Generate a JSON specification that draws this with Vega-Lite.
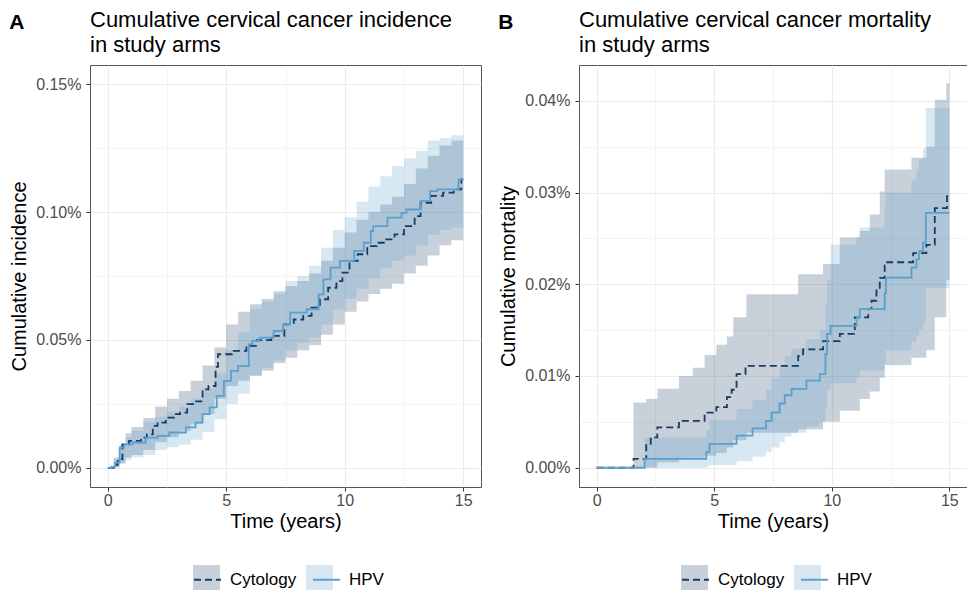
{
"$schema":"https://vega.github.io/schema/vega-lite/v6.json",
"padding":{"left":9,"top":8,"right":0,"bottom":0},
"background":"white",
"spacing":16,
"config":{
 "font":"Liberation Sans",
 "view":{"stroke":"#555555","strokeWidth":1},
 "axis":{"domain":false,"grid":true,"gridColor":"#ebebeb","tickColor":"#333333","labelColor":"#4d4d4d","labelFontSize":16,"titleFontSize":20,"titleFontWeight":"normal","titleColor":"#000000","labelPadding":5,"titlePadding":6,"labelFlush":false,"labelOverlap":false,"labelBound":false},
 "axisX":{"labelPadding":1,"titlePadding":3},
 "legend":{"labelFontSize":17,"labelColor":"#000000","padding":0},
 "title":{"color":"#000000","fontWeight":"normal"}
},
"resolve":{"scale":{"fill":"independent","stroke":"independent","strokeDash":"independent"},"legend":{"fill":"independent","stroke":"independent","strokeDash":"independent"}},
"datasets":{
"lineA":[
{"group":"Cytology","t":0,"est":0},{"group":"Cytology","t":0.25,"est":0.0012},{"group":"Cytology","t":0.42,"est":0.0034},{"group":"Cytology","t":0.62,"est":0.0092},{"group":"Cytology","t":0.9,"est":0.0105},{"group":"Cytology","t":1.4,"est":0.0118},{"group":"Cytology","t":1.65,"est":0.0131},{"group":"Cytology","t":1.9,"est":0.0164},{"group":"Cytology","t":2.1,"est":0.0177},{"group":"Cytology","t":2.45,"est":0.0196},{"group":"Cytology","t":2.8,"est":0.021},{"group":"Cytology","t":3.05,"est":0.0216},{"group":"Cytology","t":3.35,"est":0.0249},{"group":"Cytology","t":3.65,"est":0.026},{"group":"Cytology","t":4.0,"est":0.0307},{"group":"Cytology","t":4.25,"est":0.032},{"group":"Cytology","t":4.55,"est":0.0395},{"group":"Cytology","t":4.65,"est":0.0444},{"group":"Cytology","t":5.25,"est":0.0457},{"group":"Cytology","t":5.85,"est":0.0477},{"group":"Cytology","t":6.3,"est":0.0499},{"group":"Cytology","t":6.9,"est":0.0516},{"group":"Cytology","t":7.45,"est":0.0561},{"group":"Cytology","t":7.85,"est":0.058},{"group":"Cytology","t":8.25,"est":0.0594},{"group":"Cytology","t":8.6,"est":0.0626},{"group":"Cytology","t":8.95,"est":0.0659},{"group":"Cytology","t":9.3,"est":0.0704},{"group":"Cytology","t":9.65,"est":0.073},{"group":"Cytology","t":9.9,"est":0.0763},{"group":"Cytology","t":10.2,"est":0.0809},{"group":"Cytology","t":10.55,"est":0.0835},{"group":"Cytology","t":10.95,"est":0.0867},{"group":"Cytology","t":11.35,"est":0.088},{"group":"Cytology","t":11.7,"est":0.0893},{"group":"Cytology","t":12.1,"est":0.0913},{"group":"Cytology","t":12.5,"est":0.0945},{"group":"Cytology","t":12.95,"est":0.0984},{"group":"Cytology","t":13.2,"est":0.1036},{"group":"Cytology","t":13.65,"est":0.1063},{"group":"Cytology","t":14.15,"est":0.1076},{"group":"Cytology","t":14.6,"est":0.1089},{"group":"Cytology","t":14.92,"est":0.1128},{"group":"Cytology","t":15.0,"est":0.1128},
{"group":"HPV","t":0,"est":0},{"group":"HPV","t":0.15,"est":0.0004},{"group":"HPV","t":0.3,"est":0.002},{"group":"HPV","t":0.5,"est":0.0079},{"group":"HPV","t":0.7,"est":0.0092},{"group":"HPV","t":1.05,"est":0.0099},{"group":"HPV","t":1.6,"est":0.0118},{"group":"HPV","t":2.1,"est":0.0125},{"group":"HPV","t":2.6,"est":0.0138},{"group":"HPV","t":3.3,"est":0.0158},{"group":"HPV","t":3.7,"est":0.0177},{"group":"HPV","t":4.0,"est":0.021},{"group":"HPV","t":4.3,"est":0.0236},{"group":"HPV","t":4.6,"est":0.0281},{"group":"HPV","t":4.9,"est":0.034},{"group":"HPV","t":5.2,"est":0.0379},{"group":"HPV","t":5.5,"est":0.0398},{"group":"HPV","t":5.95,"est":0.0483},{"group":"HPV","t":6.1,"est":0.0496},{"group":"HPV","t":6.4,"est":0.0509},{"group":"HPV","t":7.0,"est":0.0535},{"group":"HPV","t":7.4,"est":0.0561},{"group":"HPV","t":7.7,"est":0.0607},{"group":"HPV","t":8.4,"est":0.062},{"group":"HPV","t":8.9,"est":0.0678},{"group":"HPV","t":9.1,"est":0.0737},{"group":"HPV","t":9.4,"est":0.0783},{"group":"HPV","t":9.8,"est":0.0809},{"group":"HPV","t":10.4,"est":0.0848},{"group":"HPV","t":10.8,"est":0.088},{"group":"HPV","t":11.1,"est":0.0926},{"group":"HPV","t":11.2,"est":0.0945},{"group":"HPV","t":11.8,"est":0.0978},{"group":"HPV","t":12.4,"est":0.0997},{"group":"HPV","t":12.6,"est":0.101},{"group":"HPV","t":13.2,"est":0.1043},{"group":"HPV","t":13.6,"est":0.1082},{"group":"HPV","t":13.9,"est":0.1089},{"group":"HPV","t":14.8,"est":0.1128},{"group":"HPV","t":15.0,"est":0.1128}
],
"bandA":[
{"arm":"Cytology","t":0,"lo":0,"hi":0},{"arm":"Cytology","t":0.25,"lo":0.0002,"hi":0.004},{"arm":"Cytology","t":0.5,"lo":0.002,"hi":0.009},{"arm":"Cytology","t":0.75,"lo":0.004,"hi":0.0135},{"arm":"Cytology","t":1.0,"lo":0.005,"hi":0.016},{"arm":"Cytology","t":1.5,"lo":0.007,"hi":0.0195},{"arm":"Cytology","t":2.0,"lo":0.010,"hi":0.024},{"arm":"Cytology","t":2.5,"lo":0.012,"hi":0.027},{"arm":"Cytology","t":3.0,"lo":0.0145,"hi":0.030},{"arm":"Cytology","t":3.5,"lo":0.017,"hi":0.034},{"arm":"Cytology","t":4.0,"lo":0.021,"hi":0.040},{"arm":"Cytology","t":4.5,"lo":0.027,"hi":0.047},{"arm":"Cytology","t":5.0,"lo":0.032,"hi":0.056},{"arm":"Cytology","t":5.5,"lo":0.034,"hi":0.061},{"arm":"Cytology","t":6.0,"lo":0.036,"hi":0.064},{"arm":"Cytology","t":6.5,"lo":0.038,"hi":0.066},{"arm":"Cytology","t":7.0,"lo":0.041,"hi":0.069},{"arm":"Cytology","t":7.5,"lo":0.043,"hi":0.071},{"arm":"Cytology","t":8.0,"lo":0.046,"hi":0.073},{"arm":"Cytology","t":8.5,"lo":0.048,"hi":0.076},{"arm":"Cytology","t":9.0,"lo":0.052,"hi":0.081},{"arm":"Cytology","t":9.5,"lo":0.056,"hi":0.086},{"arm":"Cytology","t":10.0,"lo":0.061,"hi":0.092},{"arm":"Cytology","t":10.5,"lo":0.065,"hi":0.097},{"arm":"Cytology","t":11.0,"lo":0.068,"hi":0.100},{"arm":"Cytology","t":11.5,"lo":0.070,"hi":0.103},{"arm":"Cytology","t":12.0,"lo":0.072,"hi":0.106},{"arm":"Cytology","t":12.5,"lo":0.076,"hi":0.111},{"arm":"Cytology","t":13.0,"lo":0.079,"hi":0.117},{"arm":"Cytology","t":13.5,"lo":0.083,"hi":0.122},{"arm":"Cytology","t":14.0,"lo":0.087,"hi":0.126},{"arm":"Cytology","t":14.5,"lo":0.089,"hi":0.128},{"arm":"Cytology","t":15.0,"lo":0.0914,"hi":0.1297},
{"arm":"HPV","t":0,"lo":0,"hi":0},{"arm":"HPV","t":0.25,"lo":0,"hi":0.003},{"arm":"HPV","t":0.5,"lo":0.0015,"hi":0.008},{"arm":"HPV","t":0.75,"lo":0.003,"hi":0.012},{"arm":"HPV","t":1.0,"lo":0.004,"hi":0.0145},{"arm":"HPV","t":1.5,"lo":0.005,"hi":0.018},{"arm":"HPV","t":2.0,"lo":0.007,"hi":0.020},{"arm":"HPV","t":2.5,"lo":0.008,"hi":0.022},{"arm":"HPV","t":3.0,"lo":0.009,"hi":0.024},{"arm":"HPV","t":3.5,"lo":0.011,"hi":0.027},{"arm":"HPV","t":4.0,"lo":0.014,"hi":0.031},{"arm":"HPV","t":4.5,"lo":0.019,"hi":0.037},{"arm":"HPV","t":5.0,"lo":0.025,"hi":0.046},{"arm":"HPV","t":5.5,"lo":0.029,"hi":0.053},{"arm":"HPV","t":6.0,"lo":0.036,"hi":0.062},{"arm":"HPV","t":6.5,"lo":0.039,"hi":0.065},{"arm":"HPV","t":7.0,"lo":0.042,"hi":0.068},{"arm":"HPV","t":7.5,"lo":0.046,"hi":0.073},{"arm":"HPV","t":8.0,"lo":0.049,"hi":0.075},{"arm":"HPV","t":8.5,"lo":0.051,"hi":0.079},{"arm":"HPV","t":9.0,"lo":0.056,"hi":0.086},{"arm":"HPV","t":9.5,"lo":0.062,"hi":0.093},{"arm":"HPV","t":10.0,"lo":0.066,"hi":0.098},{"arm":"HPV","t":10.5,"lo":0.070,"hi":0.104},{"arm":"HPV","t":11.0,"lo":0.074,"hi":0.110},{"arm":"HPV","t":11.5,"lo":0.078,"hi":0.114},{"arm":"HPV","t":12.0,"lo":0.081,"hi":0.118},{"arm":"HPV","t":12.5,"lo":0.083,"hi":0.121},{"arm":"HPV","t":13.0,"lo":0.087,"hi":0.124},{"arm":"HPV","t":13.5,"lo":0.091,"hi":0.128},{"arm":"HPV","t":14.0,"lo":0.093,"hi":0.129},{"arm":"HPV","t":14.5,"lo":0.094,"hi":0.130},{"arm":"HPV","t":15.0,"lo":0.095,"hi":0.1336}
],
"lineB":[
{"group":"Cytology","t":0,"est":0},{"group":"Cytology","t":1.57,"est":0.00097},{"group":"Cytology","t":2.11,"est":0.0026},{"group":"Cytology","t":2.3,"est":0.0033},{"group":"Cytology","t":2.58,"est":0.0044},{"group":"Cytology","t":3.5,"est":0.0051},{"group":"Cytology","t":4.59,"est":0.006},{"group":"Cytology","t":5.09,"est":0.0066},{"group":"Cytology","t":5.54,"est":0.0077},{"group":"Cytology","t":5.74,"est":0.0085},{"group":"Cytology","t":5.95,"est":0.0102},{"group":"Cytology","t":6.33,"est":0.0111},{"group":"Cytology","t":8.57,"est":0.0122},{"group":"Cytology","t":8.78,"est":0.0129},{"group":"Cytology","t":9.63,"est":0.0138},{"group":"Cytology","t":10.34,"est":0.0146},{"group":"Cytology","t":10.98,"est":0.0164},{"group":"Cytology","t":11.55,"est":0.0173},{"group":"Cytology","t":11.69,"est":0.0182},{"group":"Cytology","t":11.9,"est":0.0196},{"group":"Cytology","t":12.04,"est":0.0207},{"group":"Cytology","t":12.25,"est":0.0224},{"group":"Cytology","t":13.46,"est":0.0234},{"group":"Cytology","t":14.02,"est":0.0243},{"group":"Cytology","t":14.38,"est":0.0283},{"group":"Cytology","t":14.9,"est":0.0296},{"group":"Cytology","t":15.0,"est":0.0296},
{"group":"HPV","t":0,"est":0},{"group":"HPV","t":2.04,"est":0.00097},{"group":"HPV","t":4.66,"est":0.0017},{"group":"HPV","t":4.8,"est":0.0026},{"group":"HPV","t":5.95,"est":0.0035},{"group":"HPV","t":6.63,"est":0.0043},{"group":"HPV","t":7.2,"est":0.0051},{"group":"HPV","t":7.44,"est":0.006},{"group":"HPV","t":7.78,"est":0.007},{"group":"HPV","t":8.0,"est":0.0079},{"group":"HPV","t":8.29,"est":0.0086},{"group":"HPV","t":8.92,"est":0.0095},{"group":"HPV","t":9.49,"est":0.0102},{"group":"HPV","t":9.73,"est":0.0124},{"group":"HPV","t":9.8,"est":0.0146},{"group":"HPV","t":9.95,"est":0.01547},{"group":"HPV","t":11.05,"est":0.01638},{"group":"HPV","t":11.19,"est":0.01728},{"group":"HPV","t":12.25,"est":0.019},{"group":"HPV","t":12.3,"est":0.02072},{"group":"HPV","t":13.39,"est":0.02181},{"group":"HPV","t":13.6,"est":0.02272},{"group":"HPV","t":13.71,"est":0.02362},{"group":"HPV","t":13.88,"est":0.02453},{"group":"HPV","t":14.0,"est":0.02779},{"group":"HPV","t":15.0,"est":0.02779}
],
"bandB":[
{"arm":"Cytology","t":1.57,"lo":0,"hi":0.0071},{"arm":"Cytology","t":2.11,"lo":0,"hi":0.0075},{"arm":"Cytology","t":2.58,"lo":0.0006,"hi":0.0086},{"arm":"Cytology","t":3.5,"lo":0.001,"hi":0.01},{"arm":"Cytology","t":4.09,"lo":0.0011,"hi":0.0109},{"arm":"Cytology","t":4.59,"lo":0.0013,"hi":0.0123},{"arm":"Cytology","t":5.09,"lo":0.0016,"hi":0.0134},{"arm":"Cytology","t":5.54,"lo":0.0022,"hi":0.0143},{"arm":"Cytology","t":5.81,"lo":0.003,"hi":0.0164},{"arm":"Cytology","t":6.37,"lo":0.0038,"hi":0.0189},{"arm":"Cytology","t":8.57,"lo":0.0042,"hi":0.0211},{"arm":"Cytology","t":9.63,"lo":0.005,"hi":0.0222},{"arm":"Cytology","t":10.34,"lo":0.0062,"hi":0.0251},{"arm":"Cytology","t":11.19,"lo":0.0075,"hi":0.0258},{"arm":"Cytology","t":11.62,"lo":0.0083,"hi":0.0276},{"arm":"Cytology","t":12.04,"lo":0.0098,"hi":0.0301},{"arm":"Cytology","t":12.25,"lo":0.0112,"hi":0.0325},{"arm":"Cytology","t":13.39,"lo":0.012,"hi":0.0338},{"arm":"Cytology","t":14.02,"lo":0.0128,"hi":0.035},{"arm":"Cytology","t":14.38,"lo":0.0164,"hi":0.0401},{"arm":"Cytology","t":14.87,"lo":0.0205,"hi":0.0419},{"arm":"Cytology","t":15.0,"lo":0.0205,"hi":0.0419},
{"arm":"HPV","t":2.04,"lo":0,"hi":0.0033},{"arm":"HPV","t":4.66,"lo":0.0001,"hi":0.0041},{"arm":"HPV","t":4.8,"lo":0.0003,"hi":0.0052},{"arm":"HPV","t":5.95,"lo":0.0007,"hi":0.0064},{"arm":"HPV","t":6.63,"lo":0.0012,"hi":0.0074},{"arm":"HPV","t":7.2,"lo":0.0017,"hi":0.0085},{"arm":"HPV","t":7.44,"lo":0.0022,"hi":0.0097},{"arm":"HPV","t":7.78,"lo":0.0028,"hi":0.011},{"arm":"HPV","t":8.0,"lo":0.0034,"hi":0.0122},{"arm":"HPV","t":8.29,"lo":0.0038,"hi":0.013},{"arm":"HPV","t":8.92,"lo":0.0045,"hi":0.014},{"arm":"HPV","t":9.49,"lo":0.005,"hi":0.015},{"arm":"HPV","t":9.73,"lo":0.0065,"hi":0.0178},{"arm":"HPV","t":9.8,"lo":0.0085,"hi":0.0205},{"arm":"HPV","t":9.95,"lo":0.0092,"hi":0.0243},{"arm":"HPV","t":11.05,"lo":0.0098,"hi":0.0252},{"arm":"HPV","t":11.19,"lo":0.0106,"hi":0.0262},{"arm":"HPV","t":12.25,"lo":0.0115,"hi":0.0285},{"arm":"HPV","t":12.3,"lo":0.0128,"hi":0.03},{"arm":"HPV","t":13.39,"lo":0.0137,"hi":0.0313},{"arm":"HPV","t":13.6,"lo":0.0144,"hi":0.0325},{"arm":"HPV","t":13.71,"lo":0.0151,"hi":0.0336},{"arm":"HPV","t":13.88,"lo":0.0158,"hi":0.0348},{"arm":"HPV","t":14.0,"lo":0.0196,"hi":0.0392},{"arm":"HPV","t":15.0,"lo":0.0196,"hi":0.0392}
]
},
"hconcat":[
{"title":{"text":"A","anchor":"start","frame":"bounds","fontSize":21,"fontWeight":"bold","offset":0,"dy":24},
 "resolve":{"scale":{"fill":"independent","stroke":"independent","strokeDash":"independent"},"legend":{"fill":"independent","stroke":"independent","strokeDash":"independent"}},
 "vconcat":[
 {"width":391,"height":422,
  "title":{"text":["Cumulative cervical cancer incidence","in study arms"],"anchor":"start","frame":"group","fontSize":22,"fontWeight":"normal","lineHeight":25,"offset":8},
  "layer":[
   {"data":{"name":"bandA"},"mark":{"type":"area","interpolate":"step-after","opacity":1},
    "encoding":{
     "x":{"field":"t","type":"quantitative","scale":{"domain":[-0.75,15.75],"nice":false,"zero":false},
      "axis":{"title":"Time (years)","values":[0,2.5,5,7.5,10,12.5,15],"labelExpr":"datum.value % 5 === 0 ? format(datum.value, 'd') : ''","tickSize":{"condition":{"test":"datum.value % 5 === 0","value":4},"value":0},"gridWidth":{"condition":{"test":"datum.value % 5 === 0","value":1.1},"value":0.55}}},
     "y":{"field":"hi","type":"quantitative","scale":{"domain":[-0.0075,0.1575],"nice":false,"zero":false},
      "axis":{"title":"Cumulative incidence","values":[0,0.025,0.05,0.075,0.1,0.125,0.15],"labelExpr":"round(datum.value*1000) % 50 === 0 ? format(datum.value, '.2f') + '%' : ''","tickSize":{"condition":{"test":"round(datum.value*1000) % 50 === 0","value":4},"value":0},"gridWidth":{"condition":{"test":"round(datum.value*1000) % 50 === 0","value":1.1},"value":0.55}}},
     "y2":{"field":"lo"},
     "fill":{"field":"arm","type":"nominal","scale":{"domain":["Cytology","HPV"],"range":["rgba(27,58,99,0.24)","rgba(91,159,204,0.24)"]},
      "legend":{"orient":"none","legendX":103,"legendY":500,"direction":"horizontal","title":null,"symbolType":"square","symbolSize":729,"symbolStrokeWidth":0,"symbolOpacity":1,"labelExpr":"''","labelOffset":8,"columnPadding":78}}
    }},
   {"data":{"name":"lineA"},"mark":{"type":"line","interpolate":"step-after","strokeWidth":1.8},
    "encoding":{
     "x":{"field":"t","type":"quantitative"},
     "y":{"field":"est","type":"quantitative"},
     "stroke":{"field":"group","type":"nominal","scale":{"range":["#1b3a63","#5b9fcc"]},
      "legend":{"orient":"none","legendX":103,"legendY":500,"direction":"horizontal","title":null,"symbolType":"stroke","symbolSize":729,"symbolStrokeWidth":1.8,"labelFontSize":17,"labelOffset":8,"columnPadding":12}},
     "strokeDash":{"field":"group","type":"nominal","scale":{"range":[[7,4],[1,0]]},
      "legend":{"orient":"none","legendX":103,"legendY":500,"direction":"horizontal","title":null,"symbolType":"stroke","symbolSize":729,"symbolStrokeWidth":1.8,"labelFontSize":17,"labelOffset":8,"columnPadding":12}}
    }}
  ]}
 ]},
{"title":{"text":"B","anchor":"start","frame":"bounds","fontSize":21,"fontWeight":"bold","offset":0,"dy":24},
 "resolve":{"scale":{"fill":"independent","stroke":"independent","strokeDash":"independent"},"legend":{"fill":"independent","stroke":"independent","strokeDash":"independent"}},
 "vconcat":[
 {"width":388,"height":422,
  "title":{"text":["Cumulative cervical cancer mortality","in study arms"],"anchor":"start","frame":"group","fontSize":22,"fontWeight":"normal","lineHeight":25,"offset":8},
  "layer":[
   {"data":{"name":"bandB"},"mark":{"type":"area","interpolate":"step-after","opacity":1},
    "encoding":{
     "x":{"field":"t","type":"quantitative","scale":{"domain":[-0.75,15.75],"nice":false,"zero":false},
      "axis":{"title":"Time (years)","values":[0,2.5,5,7.5,10,12.5,15],"labelExpr":"datum.value % 5 === 0 ? format(datum.value, 'd') : ''","tickSize":{"condition":{"test":"datum.value % 5 === 0","value":4},"value":0},"gridWidth":{"condition":{"test":"datum.value % 5 === 0","value":1.1},"value":0.55}}},
     "y":{"field":"hi","type":"quantitative","scale":{"domain":[-0.0021,0.0439],"nice":false,"zero":false},
      "axis":{"title":"Cumulative mortality","values":[0,0.005,0.01,0.015,0.02,0.025,0.03,0.035,0.04],"labelExpr":"round(datum.value*1000) % 10 === 0 ? format(datum.value, '.2f') + '%' : ''","tickSize":{"condition":{"test":"round(datum.value*1000) % 10 === 0","value":4},"value":0},"gridWidth":{"condition":{"test":"round(datum.value*1000) % 10 === 0","value":1.1},"value":0.55}}},
     "y2":{"field":"lo"},
     "fill":{"field":"arm","type":"nominal","scale":{"domain":["Cytology","HPV"],"range":["rgba(27,58,99,0.24)","rgba(91,159,204,0.24)"]},
      "legend":{"orient":"none","legendX":102,"legendY":500,"direction":"horizontal","title":null,"symbolType":"square","symbolSize":729,"symbolStrokeWidth":0,"symbolOpacity":1,"labelExpr":"''","labelOffset":8,"columnPadding":78}}
    }},
   {"data":{"name":"lineB"},"mark":{"type":"line","interpolate":"step-after","strokeWidth":1.8},
    "encoding":{
     "x":{"field":"t","type":"quantitative"},
     "y":{"field":"est","type":"quantitative"},
     "stroke":{"field":"group","type":"nominal","scale":{"range":["#1b3a63","#5b9fcc"]},
      "legend":{"orient":"none","legendX":102,"legendY":500,"direction":"horizontal","title":null,"symbolType":"stroke","symbolSize":729,"symbolStrokeWidth":1.8,"labelFontSize":17,"labelOffset":8,"columnPadding":12}},
     "strokeDash":{"field":"group","type":"nominal","scale":{"range":[[7,4],[1,0]]},
      "legend":{"orient":"none","legendX":102,"legendY":500,"direction":"horizontal","title":null,"symbolType":"stroke","symbolSize":729,"symbolStrokeWidth":1.8,"labelFontSize":17,"labelOffset":8,"columnPadding":12}}
    }}
  ]}
 ]}
]
}
